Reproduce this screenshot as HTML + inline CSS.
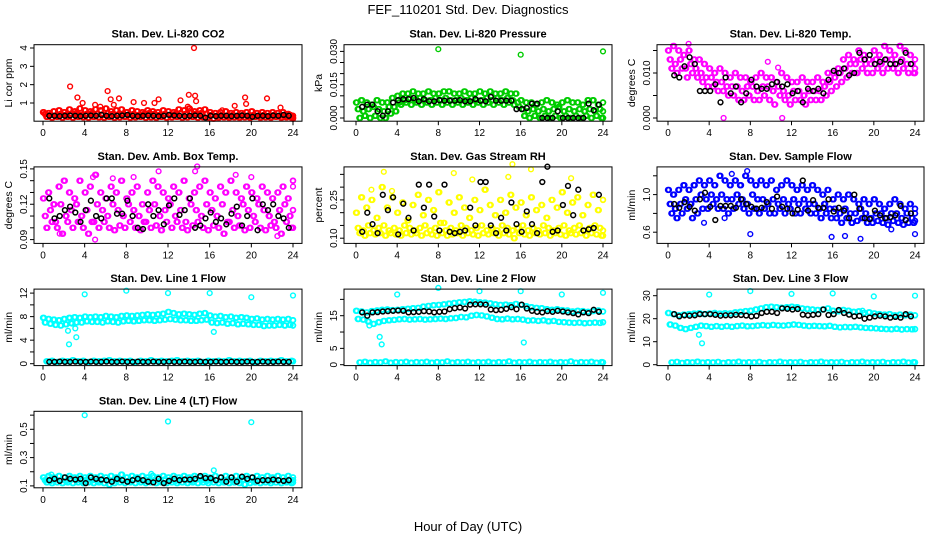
<!DOCTYPE html>
<html><head><meta charset="utf-8"><style>
html,body{margin:0;padding:0;background:#fff}
svg{display:block;font-family:"Liberation Sans",Arial,sans-serif}
</style></head><body>
<svg id="chart" width="936" height="540" viewBox="0 0 936 540" xmlns="http://www.w3.org/2000/svg">
<text x="468" y="14" font-size="13" text-anchor="middle">FEF_110201  Std. Dev. Diagnostics</text>
<text x="468" y="531" font-size="13" text-anchor="middle">Hour of Day (UTC)</text>
</svg>
<script>
// ---------- data ----------
const xTickLabels = ["0","4","8","12","16","20","24"];
const xTickValues = [0,4,8,12,16,20,24];

const co2A=[0.5,0.45,0.55,0.6,0.5,0.65,0.55,0.7,0.6,0.55,0.65,0.6,0.7,0.55,0.6,0.65,0.5,0.6,0.55,0.5,0.6,0.55,0.5,0.6,0.55,0.5,0.65,0.6,0.7,0.55,0.6,0.65,0.5,0.45,0.5,0.55,0.45,0.5,0.45,0.5,0.55,0.45,0.5,0.45,0.5,0.45,0.5,0.4,0.3];
const co2B=[0.4,0.35,0.3,0.4,0.35,0.4,0.45,0.35,0.4,0.45,0.4,0.35,0.45,0.4,0.35,0.4,0.35,0.4,0.35,0.4,0.45,0.4,0.35,0.4,0.35,0.4,0.45,0.4,0.5,0.4,0.45,0.4,0.35,0.3,0.35,0.3,0.35,0.3,0.35,0.3,0.35,0.3,0.35,0.3,0.35,0.3,0.3,0.35,0.2];
const co2C=[0.25,0.2,0.25,0.2,0.25,0.2,0.25,0.22,0.2,0.25,0.22,0.2,0.25,0.2,0.22,0.25,0.2,0.22,0.25,0.2,0.22,0.2,0.25,0.2,0.22,0.25,0.2,0.22,0.25,0.2,0.22,0.2,0.15,0.2,0.22,0.2,0.22,0.2,0.22,0.2,0.25,0.2,0.22,0.2,0.25,0.2,0.22,0.2,0.15];
const co2Black=[0.3,0.3,0.28,0.3,0.32,0.3,0.28,0.3,0.32,0.3,0.35,0.3,0.28,0.3,0.32,0.35,0.3,0.28,0.3,0.32,0.3,0.28,0.3,0.35,0.32,0.3,0.28,0.3,0.32,0.3,0.2,0.3,0.28,0.3,0.3,0.28,0.3,0.32,0.3,0.25,0.3,0.3,0.28,0.32,0.3,0.35,0.3];
const co2Out=[[14.5,4.0],[2.6,1.9],[6.2,1.65],[3.3,1.3],[7.3,1.25],[6.5,1.2],[8.7,1.05],[9.7,1.0],[11.1,1.2],[10.7,1.0],[13.2,1.15],[14.0,1.45],[14.6,1.4],[14.7,1.1],[13.9,0.8],[17.2,0.6],[18.4,0.85],[19.4,1.3],[19.5,0.95],[21.5,1.25],[22.8,0.75],[3.8,1.0],[5.0,0.9],[6.8,0.9],[5.5,0.8]];

const presA=[0.007,0.008,0.007,0.006,0.008,0.007,0.007,0.009,0.010,0.011,0.011,0.012,0.011,0.011,0.012,0.011,0.011,0.012,0.012,0.011,0.011,0.012,0.011,0.011,0.012,0.011,0.012,0.011,0.011,0.012,0.011,0.011,0.008,0.007,0.007,0.006,0.007,0.008,0.007,0.006,0.007,0.008,0.007,0.007,0.006,0.008,0.008,0.006,0.007];
const presB=[0.004,0.003,0.004,0.005,0.004,0.003,0.005,0.005,0.007,0.008,0.009,0.008,0.009,0.008,0.008,0.009,0.008,0.009,0.008,0.008,0.009,0.008,0.009,0.008,0.008,0.009,0.008,0.009,0.008,0.009,0.008,0.007,0.004,0.003,0.004,0.003,0.004,0.003,0.004,0.005,0.003,0.004,0.003,0.004,0.003,0.004,0.003,0.004,0.003];
const presC=[0.000,0.001,0.000,0.001,0.000,0.000,0.002,0.003,0.006,0.007,0.006,0.007,0.006,0.007,0.006,0.007,0.006,0.007,0.006,0.007,0.006,0.007,0.006,0.007,0.006,0.007,0.006,0.007,0.006,0.007,0.006,0.005,0.001,0.000,0.001,0.000,0.001,0.000,0.001,0.000,0.001,0.000,0.001,0.000,0.001,0.000,0.001,0.000,0.000];
const presBlack=[0.005,0.006,0.006,0.003,0.001,0.003,0.007,0.008,0.0085,0.0085,0.009,0.0075,0.0085,0.0075,0.0075,0.008,0.0078,0.0078,0.0078,0.008,0.0075,0.0075,0.0085,0.0078,0.0075,0.0095,0.0078,0.0078,0.0078,0.0078,0.004,0.004,0.0045,0.0065,0.0065,0.0,0.0,0.0,0.003,0.0,0.0,0.0,0.0,0.0,0.0065,0.0035,0.006];
const presOut=[[8,0.031],[16,0.0285],[24,0.030]];

const tempA=[0.015,0.016,0.015,0.014,0.015,0.013,0.013,0.012,0.011,0.010,0.011,0.010,0.009,0.010,0.009,0.009,0.008,0.009,0.010,0.009,0.009,0.008,0.010,0.009,0.008,0.008,0.009,0.008,0.008,0.009,0.008,0.010,0.010,0.011,0.013,0.014,0.013,0.015,0.014,0.013,0.015,0.014,0.016,0.015,0.014,0.016,0.015,0.014,0.013];
const tempB=[0.013,0.012,0.013,0.011,0.012,0.011,0.010,0.009,0.009,0.008,0.008,0.007,0.007,0.007,0.006,0.007,0.007,0.006,0.007,0.007,0.006,0.007,0.006,0.005,0.006,0.006,0.005,0.006,0.006,0.006,0.007,0.008,0.009,0.010,0.011,0.012,0.012,0.013,0.012,0.012,0.013,0.012,0.013,0.013,0.012,0.013,0.012,0.012,0.011];
const tempC=[0.011,0.010,0.011,0.009,0.010,0.009,0.008,0.007,0.007,0.006,0.006,0.005,0.005,0.004,0.004,0.005,0.004,0.004,0.005,0.004,0.003,0.005,0.004,0.003,0.004,0.004,0.003,0.004,0.004,0.004,0.005,0.006,0.007,0.008,0.009,0.010,0.010,0.011,0.010,0.010,0.011,0.010,0.011,0.011,0.010,0.011,0.010,0.010,0.010];
const tempBlack=[0.0095,0.009,0.0115,0.0135,0.012,0.006,0.006,0.006,0.0075,0.0035,0.009,0.0055,0.007,0.0035,0.0055,0.0085,0.007,0.0065,0.0065,0.0075,0.008,0.007,0.0075,0.0055,0.006,0.0035,0.0065,0.006,0.0065,0.0055,0.0085,0.0105,0.01,0.011,0.0095,0.01,0.0145,0.013,0.014,0.012,0.0125,0.013,0.012,0.012,0.0125,0.0145,0.012];
const tempOut=[[5.4,0.0],[11.1,0.0],[2.0,0.0165],[9.7,0.0125],[10.7,0.0112]];

const ambA=[0.125,0.13,0.12,0.135,0.14,0.13,0.125,0.14,0.13,0.135,0.145,0.13,0.125,0.135,0.13,0.14,0.125,0.13,0.135,0.12,0.13,0.14,0.135,0.13,0.125,0.135,0.13,0.14,0.125,0.13,0.135,0.14,0.13,0.125,0.135,0.13,0.14,0.13,0.125,0.135,0.13,0.125,0.135,0.13,0.125,0.13,0.135,0.125,0.14];
const ambB=[0.11,0.115,0.105,0.12,0.11,0.115,0.12,0.11,0.115,0.105,0.12,0.115,0.11,0.12,0.115,0.11,0.12,0.115,0.11,0.105,0.115,0.12,0.11,0.115,0.12,0.11,0.115,0.105,0.12,0.115,0.11,0.12,0.115,0.11,0.12,0.105,0.115,0.11,0.12,0.115,0.11,0.12,0.115,0.11,0.105,0.115,0.12,0.11,0.115];
const ambC=[0.1,0.105,0.1,0.095,0.105,0.1,0.105,0.1,0.095,0.105,0.1,0.105,0.1,0.098,0.102,0.1,0.105,0.1,0.098,0.105,0.1,0.102,0.098,0.105,0.1,0.105,0.1,0.098,0.102,0.105,0.1,0.098,0.102,0.1,0.095,0.105,0.1,0.102,0.098,0.1,0.105,0.1,0.098,0.102,0.1,0.095,0.105,0.1,0.1];
const ambBlack=[0.125,0.108,0.11,0.115,0.118,0.113,0.105,0.115,0.123,0.11,0.108,0.125,0.125,0.112,0.112,0.123,0.11,0.1,0.099,0.12,0.11,0.115,0.103,0.119,0.125,0.111,0.115,0.125,0.1,0.102,0.108,0.113,0.105,0.108,0.103,0.112,0.118,0.102,0.11,0.125,0.098,0.12,0.115,0.12,0.11,0.108,0.1];
const ambOut=[[5,0.09],[5.1,0.145],[4.8,0.143],[11.1,0.148],[14.8,0.152],[14.6,0.148],[18.5,0.145],[20,0.143],[1.6,0.095],[22.5,0.093],[24,0.135],[6.7,0.142],[8.7,0.143]];

const rhA=[0.2,0.26,0.22,0.25,0.18,0.3,0.22,0.26,0.2,0.24,0.17,0.23,0.27,0.19,0.25,0.21,0.28,0.16,0.24,0.2,0.26,0.22,0.18,0.25,0.21,0.29,0.23,0.19,0.25,0.2,0.27,0.22,0.24,0.19,0.26,0.21,0.23,0.18,0.25,0.22,0.28,0.2,0.24,0.26,0.19,0.23,0.27,0.21,0.25];
const rhB=[0.14,0.13,0.15,0.13,0.14,0.15,0.13,0.14,0.13,0.15,0.14,0.13,0.14,0.15,0.13,0.14,0.16,0.13,0.14,0.13,0.15,0.14,0.13,0.14,0.15,0.13,0.14,0.13,0.15,0.14,0.13,0.14,0.15,0.13,0.14,0.13,0.15,0.14,0.13,0.14,0.15,0.13,0.14,0.15,0.13,0.14,0.15,0.14,0.13];
const rhC=[0.12,0.11,0.12,0.115,0.12,0.11,0.12,0.115,0.11,0.12,0.115,0.12,0.11,0.12,0.115,0.11,0.12,0.11,0.115,0.12,0.11,0.12,0.115,0.11,0.12,0.115,0.12,0.11,0.12,0.115,0.1,0.12,0.115,0.11,0.12,0.115,0.12,0.11,0.12,0.115,0.11,0.12,0.115,0.12,0.11,0.12,0.115,0.11,0.11];
const rhBlack=[0.125,0.2,0.155,0.12,0.27,0.21,0.26,0.115,0.235,0.18,0.13,0.31,0.22,0.31,0.185,0.13,0.31,0.125,0.12,0.125,0.13,0.22,0.15,0.32,0.32,0.15,0.12,0.18,0.13,0.24,0.155,0.125,0.205,0.155,0.12,0.32,0.38,0.125,0.13,0.23,0.305,0.19,0.29,0.13,0.135,0.14,0.27];
const rhOut=[[2.7,0.36],[15.2,0.39],[17,0.37],[9.5,0.355],[20.9,0.335],[11.3,0.33],[14.8,0.34],[1.5,0.29],[3.5,0.285]];

const flowA=[1.05,1.0,1.05,1.1,1.05,1.1,1.15,1.1,1.15,1.1,1.2,1.15,1.1,1.15,1.1,1.2,1.15,1.1,1.15,1.1,1.15,1.05,1.1,1.15,1.1,1.05,1.1,1.05,1.1,1.05,1.0,1.05,0.95,1.0,0.95,1.0,0.95,0.9,0.95,0.9,0.95,0.9,0.85,0.9,0.95,0.9,0.85,0.9,0.85];
const flowB=[0.9,0.85,0.9,0.95,0.9,0.95,1.0,0.95,1.0,0.95,1.0,0.95,0.95,1.0,0.95,0.9,1.0,0.95,0.95,0.9,0.95,0.9,0.95,0.9,0.95,0.9,0.95,0.9,0.9,0.85,0.9,0.85,0.85,0.8,0.85,0.8,0.8,0.85,0.8,0.75,0.8,0.8,0.75,0.8,0.8,0.75,0.8,0.75,0.8];
const flowC=[0.8,0.75,0.8,0.85,0.75,0.8,0.85,0.85,0.9,0.85,0.85,0.8,0.85,0.9,0.85,0.8,0.85,0.8,0.85,0.8,0.8,0.85,0.8,0.85,0.8,0.8,0.85,0.8,0.8,0.75,0.8,0.75,0.75,0.7,0.75,0.7,0.72,0.75,0.7,0.7,0.72,0.7,0.68,0.72,0.7,0.68,0.7,0.7,0.72];
const flowBlack=[0.9,0.86,0.92,0.87,0.83,0.95,1.02,0.87,0.73,0.88,0.88,0.88,0.86,0.95,0.9,0.87,0.85,0.86,0.92,0.85,0.98,0.87,0.85,0.8,0.84,1.15,0.83,0.94,0.86,0.86,0.95,0.82,0.86,0.83,0.75,1.0,0.85,0.75,0.74,0.83,0.78,0.75,0.76,0.78,0.88,0.73,0.8];
const flowOut=[[8,0.58],[15.9,0.55],[17.2,0.56],[18.7,0.53],[24,0.58],[3.5,0.7],[7.7,1.25],[6.2,1.22],[21.7,0.63],[5.5,0.75]];

const l1A=[7.8,7.6,7.5,7.4,7.6,7.8,7.9,7.8,8.0,7.9,8.0,7.9,8.1,8.0,7.9,8.1,8.2,8.1,8.2,8.3,8.4,8.3,8.4,8.5,8.8,8.6,8.4,8.5,8.4,8.3,8.5,8.6,8.2,8.0,8.1,7.9,8.0,7.8,7.9,7.8,7.6,7.7,7.5,7.6,7.5,7.6,7.5,7.6,7.4];
const l1B=[7.0,6.8,6.6,6.5,6.7,6.9,7.0,7.0,7.2,7.1,7.1,7.0,7.2,7.1,7.0,7.2,7.3,7.2,7.3,7.4,7.4,7.3,7.4,7.5,7.6,7.5,7.4,7.4,7.3,7.3,7.4,7.5,7.0,6.9,7.0,6.8,6.9,6.7,6.8,6.7,6.6,6.6,6.4,6.5,6.5,6.6,6.5,6.6,6.5];
const l1C=[0.4,0.5,0.3,0.5,0.4,0.6,0.4,0.5,0.3,0.5,0.4,0.5,0.6,0.4,0.5,0.4,0.5,0.3,0.5,0.4,0.6,0.4,0.5,0.4,0.5,0.6,0.4,0.5,0.4,0.5,0.3,0.5,0.4,0.5,0.4,0.6,0.4,0.5,0.4,0.5,0.3,0.5,0.4,0.5,0.4,0.6,0.4,0.5,0.4];
const l1Black=[0.3,0.3,0.35,0.3,0.3,0.35,0.3,0.3,0.35,0.3,0.3,0.35,0.3,0.3,0.35,0.3,0.3,0.35,0.3,0.3,0.35,0.3,0.3,0.35,0.3,0.3,0.35,0.3,0.3,0.35,0.3,0.3,0.35,0.3,0.3,0.35,0.3,0.3,0.35,0.3,0.3,0.35,0.3,0.3,0.35,0.3,0.3];
const l1Out=[[4,11.8],[8,12.4],[12,12.0],[16,12.0],[20,11.3],[24,11.6],[2.5,3.3],[3.2,4.5],[2.4,5.6],[3.1,6.0],[16.4,5.4],[2.8,6.8]];

const l2A=[16.5,16.3,16.0,16.4,16.6,16.8,16.9,16.7,16.8,17.0,17.1,17.3,17.4,17.8,18.0,18.2,18.3,18.5,18.7,18.9,19.1,19.2,19.4,19.3,19.1,19.0,18.8,18.5,18.3,18.4,18.2,18.6,18.3,17.9,17.6,17.4,17.3,17.0,16.8,17.0,16.7,16.6,16.3,16.5,16.4,16.2,16.4,16.6,16.3];
const l2B=[14.0,13.8,13.2,12.5,13.0,13.4,13.6,13.7,13.9,14.0,13.8,13.9,14.0,13.8,13.9,14.0,14.1,14.0,14.2,14.3,14.6,14.5,15.0,15.2,15.1,14.8,14.4,14.0,13.9,14.1,13.9,14.0,13.8,13.5,13.6,13.4,13.6,13.3,13.4,13.1,13.0,12.9,12.8,12.9,12.7,12.8,12.9,12.8,13.0];
const l2C=[0.7,0.9,0.6,0.8,0.7,1.0,0.6,0.8,0.7,0.9,0.6,0.8,0.7,0.9,0.6,0.8,0.7,1.0,0.6,0.8,0.7,0.9,0.6,0.8,0.7,0.9,0.6,0.8,0.7,1.0,0.6,0.8,0.7,0.9,0.6,0.8,0.7,0.9,0.6,0.8,0.7,1.0,0.6,0.8,0.7,0.9,0.6,0.8,0.7];
const l2Black=[16,15,16,16.1,16.3,16.4,16.5,16.6,16.5,16.0,16.1,16.2,16.4,16.3,16.0,16.2,16.3,17.0,17.3,17.5,17.2,18.4,18.5,18.5,18.4,16.9,16.7,16.8,17.1,17.6,17.0,18.4,17.2,16.5,16.2,16.0,16.4,16.2,16.5,16.3,16.0,15.8,15.4,16.0,15.8,16.8,16.2];
const l2Out=[[4,21.5],[8,23.5],[12,22.5],[16,22.5],[20,21.5],[24,22],[2.3,8.5],[2.5,6.2],[16.3,6.8],[1.3,12]];

const l3A=[22.5,22,21.5,21.8,22,22.2,22.4,22.0,22.3,22.5,22.2,22.4,22.3,22.8,23,23.3,23.5,24,24.5,25,25.2,25,24.8,25,25.2,25,24.5,24.2,24,23.8,24,24.5,23.5,23.2,23.8,23.5,23,23.2,22.5,22.8,22.3,22,21.8,22,21.5,21.8,21.5,21.8,21.5];
const l3B=[17.5,17,16,15.5,16,16.5,17,16.8,16.5,16.8,16.5,16.8,16.5,16.8,17,16.7,16.8,17,17.2,17,17.3,17.1,17,17.2,17.5,17.3,17,16.8,16.9,16.8,16.7,16.9,16.5,16.2,16.4,16.3,16.5,16.2,16.0,15.9,15.8,15.6,15.5,15.4,15.6,15.3,15.5,15.4,15.5];
const l3C=[1.0,1.2,0.8,1.1,1.0,1.3,0.9,1.1,1.0,1.2,0.8,1.1,1.0,1.3,0.9,1.1,1.0,1.2,0.8,1.1,1.0,1.3,0.9,1.1,1.0,1.2,0.8,1.1,1.0,1.3,0.9,1.1,1.0,1.2,0.8,1.1,1.0,1.3,0.9,1.1,1.0,1.2,0.8,1.1,1.0,1.3,0.9,1.1,1.0];
const l3Black=[22,21,21.5,21.3,21.5,22,22,22,21.7,21.3,21.5,21.5,21.7,21.6,21.4,21.0,21.2,22.5,23,23,22.5,24.5,24.3,24,24.2,21.8,21.5,21.7,22.0,24.0,21.6,22,23.8,22.5,21.8,21.0,21.2,20.0,20.5,21.0,21.3,21.0,20.5,20.8,20.5,22,21];
const l3Out=[[4,30.5],[8,32],[12,30.8],[16,31],[20,29.7],[24,30],[3,13],[3.3,9.3],[18.9,23.5]];

const l4A=[0.16,0.17,0.16,0.17,0.16,0.17,0.16,0.17,0.16,0.17,0.16,0.17,0.16,0.17,0.16,0.18,0.16,0.17,0.16,0.17,0.16,0.17,0.16,0.17,0.16,0.17,0.16,0.17,0.16,0.17,0.16,0.17,0.16,0.17,0.16,0.17,0.16,0.17,0.16,0.17,0.16,0.17,0.16,0.17,0.16,0.17,0.16,0.17,0.16];
const l4B=[0.14,0.135,0.145,0.14,0.135,0.145,0.14,0.135,0.145,0.14,0.135,0.145,0.14,0.135,0.145,0.14,0.135,0.145,0.14,0.135,0.145,0.14,0.135,0.145,0.14,0.135,0.145,0.14,0.135,0.145,0.14,0.135,0.145,0.14,0.135,0.145,0.14,0.135,0.145,0.14,0.135,0.145,0.14,0.135,0.145,0.14,0.135,0.145,0.14];
const l4C=[0.125,0.12,0.125,0.12,0.125,0.12,0.125,0.12,0.125,0.12,0.125,0.12,0.11,0.12,0.125,0.12,0.125,0.12,0.125,0.12,0.125,0.12,0.125,0.12,0.125,0.12,0.125,0.12,0.125,0.12,0.125,0.12,0.125,0.12,0.125,0.12,0.125,0.12,0.11,0.12,0.125,0.12,0.125,0.12,0.125,0.12,0.125,0.12,0.125];
const l4Black=[0.14,0.15,0.135,0.16,0.15,0.145,0.15,0.12,0.16,0.15,0.145,0.14,0.13,0.15,0.14,0.13,0.14,0.15,0.14,0.13,0.125,0.15,0.12,0.135,0.15,0.14,0.145,0.145,0.15,0.17,0.155,0.155,0.14,0.16,0.13,0.16,0.13,0.165,0.15,0.16,0.135,0.14,0.14,0.145,0.14,0.135,0.14];
const l4Out=[[4,0.6],[12,0.555],[20,0.55],[16.4,0.21],[10.4,0.185],[0.8,0.18]];

// ---------- layout (pixels, not data) ----------
const panels=[
 {name:"li820-co2",title:"Stan. Dev. Li-820 CO2",yl:"Li cor ppm",col:"#ff0000",c:0,r:0,v1:4,p1:3.3,v2:1,p2:58.3,ticks:[1,2,3,4],labels:[1,2,3,4],fmt:0,A:co2A,B:co2B,C:co2C,K:co2Black,O:co2Out},
 {name:"li820-pressure",title:"Stan. Dev. Li-820 Pressure",yl:"kPa",col:"#00cc00",c:1,r:0,v1:0.03,p1:6.7,v2:0,p2:73.3,ticks:[0,0.005,0.01,0.015,0.02,0.025,0.03],labels:[0,0.015,0.03],fmt:3,A:presA,B:presB,C:presC,K:presBlack,O:presOut},
 {name:"li820-temp",title:"Stan. Dev. Li-820 Temp.",yl:"degrees C",col:"#ff00ff",c:2,r:0,v1:0.01,p1:28.3,v2:0,p2:73.3,ticks:[0,0.005,0.01,0.015],labels:[0,0.01],fmt:3,A:tempA,B:tempB,C:tempC,K:tempBlack,O:tempOut},
 {name:"amb-box-temp",title:"Stan. Dev. Amb. Box Temp.",yl:"degrees C",col:"#ff00ff",c:0,r:1,v1:0.15,p1:2,v2:0.09,p2:72.7,ticks:[0.09,0.1,0.11,0.12,0.13,0.14,0.15],labels:[0.09,0.12,0.15],fmt:2,A:ambA,B:ambB,C:ambC,K:ambBlack,O:ambOut},
 {name:"gas-stream-rh",title:"Stan. Dev. Gas Stream RH",yl:"percent",col:"#ffff00",c:1,r:1,v1:0.25,p1:33,v2:0.1,p2:71.3,ticks:[0.1,0.15,0.2,0.25,0.3,0.35],labels:[0.1,0.25],fmt:2,A:rhA,B:rhB,C:rhC,K:rhBlack,O:rhOut},
 {name:"sample-flow",title:"Stan. Dev. Sample Flow",yl:"ml/min",col:"#0000ff",c:2,r:1,v1:1.0,p1:27.7,v2:0.6,p2:65.3,ticks:[0.6,0.8,1.0,1.2],labels:[0.6,1.0],fmt:1,A:flowA,B:flowB,C:flowC,K:flowBlack,O:flowOut},
 {name:"line1-flow",title:"Stan. Dev. Line 1 Flow",yl:"ml/min",col:"#00ffff",c:0,r:2,v1:12,p1:4,v2:0,p2:74.6,ticks:[0,2,4,6,8,10,12],labels:[0,4,8,12],fmt:0,A:l1A,B:l1B,C:l1C,K:l1Black,O:l1Out},
 {name:"line2-flow",title:"Stan. Dev. Line 2 Flow",yl:"ml/min",col:"#00ffff",c:1,r:2,v1:15,p1:26.6,v2:0,p2:75.6,ticks:[0,5,10,15,20],labels:[0,5,15],fmt:0,A:l2A,B:l2B,C:l2C,K:l2Black,O:l2Out},
 {name:"line3-flow",title:"Stan. Dev. Line 3 Flow",yl:"ml/min",col:"#00ffff",c:2,r:2,v1:30,p1:6.6,v2:0,p2:75.6,ticks:[0,10,20,30],labels:[0,10,20,30],fmt:0,A:l3A,B:l3B,C:l3C,K:l3Black,O:l3Out},
 {name:"line4-flow",title:"Stan. Dev. Line 4 (LT) Flow",yl:"ml/min",col:"#00ffff",c:0,r:3,v1:0.5,p1:18,v2:0.1,p2:74.6,ticks:[0.1,0.2,0.3,0.4,0.5,0.6],labels:[0.1,0.3,0.5],fmt:1,A:l4A,B:l4B,C:l4C,K:l4Black,O:l4Out}
];
const cols=[{l:34,r:302,x0:43,x24:293},{l:344,r:612,x0:356,x24:603},{l:657,r:924,x0:668,x24:915}];
const NS="http://www.w3.org/2000/svg";
const svg=document.getElementById('chart');
function mk(tag,parent){const e=document.createElementNS(NS,tag);parent.appendChild(e);return e;}

panels.forEach(p=>{
  const c=cols[p.c]; const top=44.7+122.2*p.r; const bot=top+76.5;
  const xs=h=>c.x0+(c.x24-c.x0)*h/24;
  const ys=v=>top+p.p1+(v-p.v1)*(p.p2-p.p1)/(p.v2-p.v1);
  const g=mk('g',svg);
  
  
  const t=mk('text',g);
  
  
  t.setAttribute('x',(c.l+c.r)/2);t.setAttribute('y',top-7);t.setAttribute('font-size','11');t.setAttribute('font-weight','bold');t.setAttribute('text-anchor','middle');t.textContent=p.title;
  const yl=mk('text',g);
  
  
  const ylx=c.l-22, yly=(top+bot)/2;
  yl.setAttribute('transform','translate('+ylx+','+yly+') rotate(-90)');yl.setAttribute('font-size','10.5');yl.setAttribute('text-anchor','middle');yl.textContent=p.yl;
  const pts=mk('g',g);
  
  
  pts.setAttribute('fill','none');
  function dot(h,v,col,par,sw){const e=mk('circle',par);e.setAttribute('cx',xs(h).toFixed(1));e.setAttribute('cy',ys(v).toFixed(1));e.setAttribute('r','2.4');e.setAttribute('stroke',col);e.setAttribute('stroke-width',sw||'1.4');}
  [[p.A,0],[p.B,0.17],[p.C,0.33]].forEach(([arr,off])=>arr.forEach((v,i)=>{
    const h=Math.min(24,i*0.5+off);
    dot(h,v,p.col,pts,'1.6');
    dot(Math.min(24,h+0.09),v,p.col,pts,'1.6');
  }));
  p.O.forEach(o=>dot(o[0],o[1],p.col,pts));
  const bk=mk('g',g);
  
  
  bk.setAttribute('fill','none');
  p.K.forEach((v,i)=>dot(0.6+i*0.5,v,'#000',bk,'1.5'));
  const box=mk('rect',g);
  
  
  box.setAttribute('x',c.l);box.setAttribute('y',top);box.setAttribute('width',c.r-c.l);box.setAttribute('height',bot-top);box.setAttribute('fill','none');box.setAttribute('stroke','#000');
  const xa=mk('g',g);
  
  
  xTickValues.forEach((h,i)=>{const x=xs(h);const l=mk('line',xa);l.setAttribute('x1',x);l.setAttribute('x2',x);l.setAttribute('y1',bot);l.setAttribute('y2',bot+4);l.setAttribute('stroke','#000');
    const tx=mk('text',xa);tx.setAttribute('x',x);tx.setAttribute('y',bot+15);tx.setAttribute('font-size','10');tx.setAttribute('text-anchor','middle');tx.textContent=xTickLabels[i];});
  const ya=mk('g',g);
  
  
  p.ticks.forEach(v=>{const y=ys(v);const l=mk('line',ya);l.setAttribute('x1',c.l-4);l.setAttribute('x2',c.l);l.setAttribute('y1',y);l.setAttribute('y2',y);l.setAttribute('stroke','#000');});
  p.labels.forEach(v=>{const y=ys(v);const tx=mk('text',ya);const x=c.l-7;tx.setAttribute('transform','translate('+x+','+y+') rotate(-90)');tx.setAttribute('font-size','10');tx.setAttribute('text-anchor','middle');tx.textContent=v.toFixed(p.fmt);});
});
</script>
</body></html>
